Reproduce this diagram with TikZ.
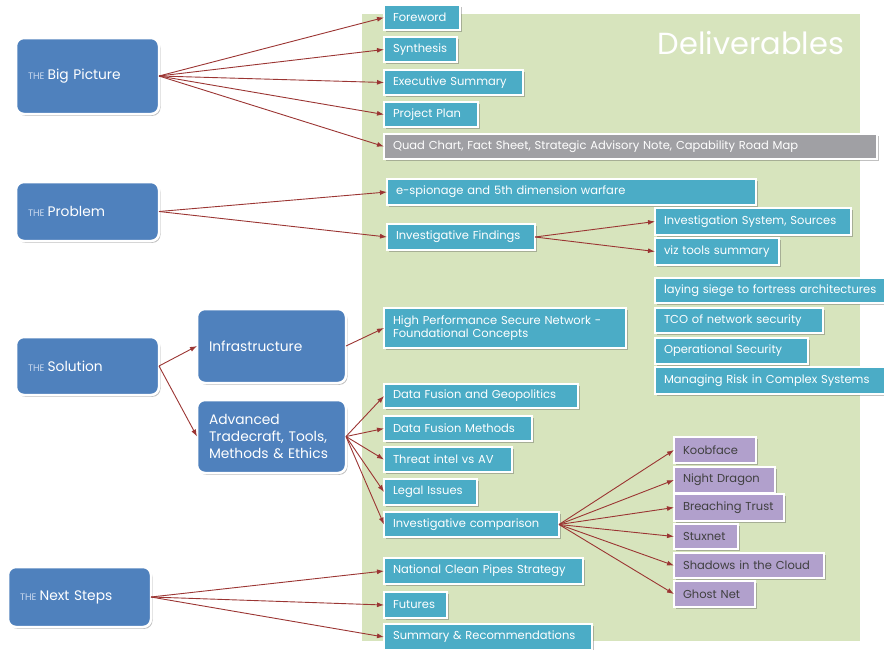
\documentclass[tikz,border=0pt]{standalone}
\usepackage{fontspec}
\setmainfont{Poppins}
\usetikzlibrary{arrows.meta,shadows}
\definecolor{bgreen}{HTML}{D7E4BD}
\definecolor{bblue}{HTML}{4F81BD}
\definecolor{bteal}{HTML}{4BACC6}
\definecolor{bgray}{HTML}{A0A0A4}
\definecolor{bpurple}{HTML}{B1A0CC}
\definecolor{barrow}{HTML}{9B3533}
\definecolor{thecol}{HTML}{C9D8EE}
\newcommand{\thepre}{{\fontsize{9.5}{10}\selectfont\color{thecol}THE}\hspace{3pt}}
\tikzset{
  softshadow/.style={drop shadow={shadow xshift=1.5pt,shadow yshift=-1.8pt,opacity=0.35,fill=black!70}},
  bigbox/.style={softshadow,fill=bblue,draw=white,line width=2.5pt,rounded corners=8pt,
    text=white,font=\fontsize{13.8}{17}\selectfont,anchor=north west,align=left,
    inner xsep=11pt,outer sep=0pt},
  smallbox/.style={softshadow,fill=bteal,draw=white,line width=2.5pt,
    text=white,font=\fontsize{11.5}{13}\selectfont,anchor=north west,align=left,
    inner xsep=9pt,inner ysep=0pt,outer sep=0pt},
  graybox/.style={smallbox,fill=bgray},
  purplebox/.style={smallbox,fill=bpurple,text=black!75},
  link/.style={draw=barrow,line width=0.9pt,-{Latex[length=7pt,width=5pt]}}
}
\begin{document}
\begin{tikzpicture}[x=1pt,y=-1pt]
\useasboundingbox (0,0) rectangle (884,649);
% deliverables panel
\fill[bgreen] (362,14) rectangle (860,641);
\node[text=white,font=\fontsize{30.5}{32}\selectfont,anchor=center] (deliv) at (751,43) {Deliverables};

% left-hand topic boxes
\node[bigbox,minimum width=143,minimum height=76,text width=119] (bp) at (16,38) {\thepre Big Picture};
\node[bigbox,minimum width=143,minimum height=59,text width=119] (prob) at (16,182) {\thepre Problem};
\node[bigbox,minimum width=143,minimum height=58,text width=119] (sol) at (16,337) {\thepre Solution};
\node[bigbox,minimum width=149,minimum height=74,text width=125] (infra) at (197,309) {Infrastructure};
\node[bigbox,minimum width=149,minimum height=73,text width=125] (adv) at (197,400) {Advanced\\Tradecraft, Tools,\\Methods \& Ethics};
\node[bigbox,minimum width=143,minimum height=60,text width=119] (next) at (8,567) {\thepre Next Steps};

% big picture deliverables
\node[smallbox,minimum height=25,text width=58] (fw) at (384,5) {Foreword};
\node[smallbox,minimum height=25,text width=55] (syn) at (384,37) {Synthesis};
\node[smallbox,minimum height=25,text width=121] (exec) at (384,70) {Executive Summary};
\node[smallbox,minimum height=25,text width=76] (plan) at (384,102) {Project Plan};
\node[graybox,minimum height=25,text width=475] (quad) at (384,134) {Quad Chart, Fact Sheet, Strategic Advisory Note, Capability Road Map};

% problem
\node[smallbox,minimum height=26,text width=351] (esp) at (387,179) {e-spionage and 5th dimension warfare};
\node[smallbox,minimum height=26,text width=130] (invf) at (387,224) {Investigative Findings};
\node[smallbox,minimum height=27,text width=178] (invs) at (655,208) {Investigation System, Sources};
\node[smallbox,minimum height=27,text width=106] (viz) at (655,238) {viz tools summary};

% infrastructure
\node[smallbox,minimum height=40,text width=224,font=\fontsize{11.5}{13.5}\selectfont] (hpsn) at (384,308) {High Performance Secure Network -\\Foundational Concepts};
\node[smallbox,minimum height=25,text width=217] (siege) at (655,278) {laying siege to fortress architectures};
\node[smallbox,minimum height=25,text width=150] (tco) at (655,308) {TCO of network security};
\node[smallbox,minimum height=26,text width=135] (opsec) at (655,338) {Operational Security};
\node[smallbox,minimum height=27,text width=217] (risk) at (655,367) {Managing Risk in Complex Systems};

% advanced tradecraft
\node[smallbox,minimum height=24,text width=176] (dfg) at (384,384) {Data Fusion and Geopolitics};
\node[smallbox,minimum height=25,text width=130] (dfm) at (384,416) {Data Fusion Methods};
\node[smallbox,minimum height=25,text width=110] (threat) at (384,447) {Threat intel vs AV};
\node[smallbox,minimum height=26,text width=75] (legal) at (384,479) {Legal Issues};
\node[smallbox,minimum height=25,text width=157] (invc) at (384,512) {Investigative comparison};

% case studies
\node[purplebox,minimum height=26,text width=64] (koob) at (674,437) {Koobface};
\node[purplebox,minimum height=26,text width=83] (night) at (674,467) {Night Dragon};
\node[purplebox,minimum height=27,text width=92] (breach) at (674,494) {Breaching Trust};
\node[purplebox,minimum height=25,text width=46] (stux) at (674,524) {Stuxnet};
\node[purplebox,minimum height=25,text width=132] (shadow) at (674,553) {Shadows in the Cloud};
\node[purplebox,minimum height=26,text width=63] (ghost) at (674,581) {Ghost Net};

% next steps
\node[smallbox,minimum height=26,text width=181] (ncps) at (384,558) {National Clean Pipes Strategy};
\node[smallbox,minimum height=26,text width=45] (fut) at (384,592) {Futures};
\node[smallbox,minimum height=26,text width=190] (summ) at (384,624) {Summary \& Recommendations};

% connectors
\foreach \t in {fw,syn,exec,plan,quad} \draw[link] (bp.east) -- (\t.west);
\foreach \t in {esp,invf} \draw[link] (prob.east) -- (\t.west);
\foreach \t in {invs,viz} \draw[link] (invf.east) -- (\t.west);
\foreach \t in {infra,adv} \draw[link] (sol.east) -- (\t.west);
\draw[link] (infra.east) -- (hpsn.west);
\foreach \t in {dfg,dfm,threat,legal,invc} \draw[link] (adv.east) -- (\t.west);
\foreach \t in {koob,night,breach,stux,shadow,ghost} \draw[link] (invc.east) -- (\t.west);
\foreach \t in {ncps,fut,summ} \draw[link] (next.east) -- (\t.west);
\end{tikzpicture}
\end{document}
